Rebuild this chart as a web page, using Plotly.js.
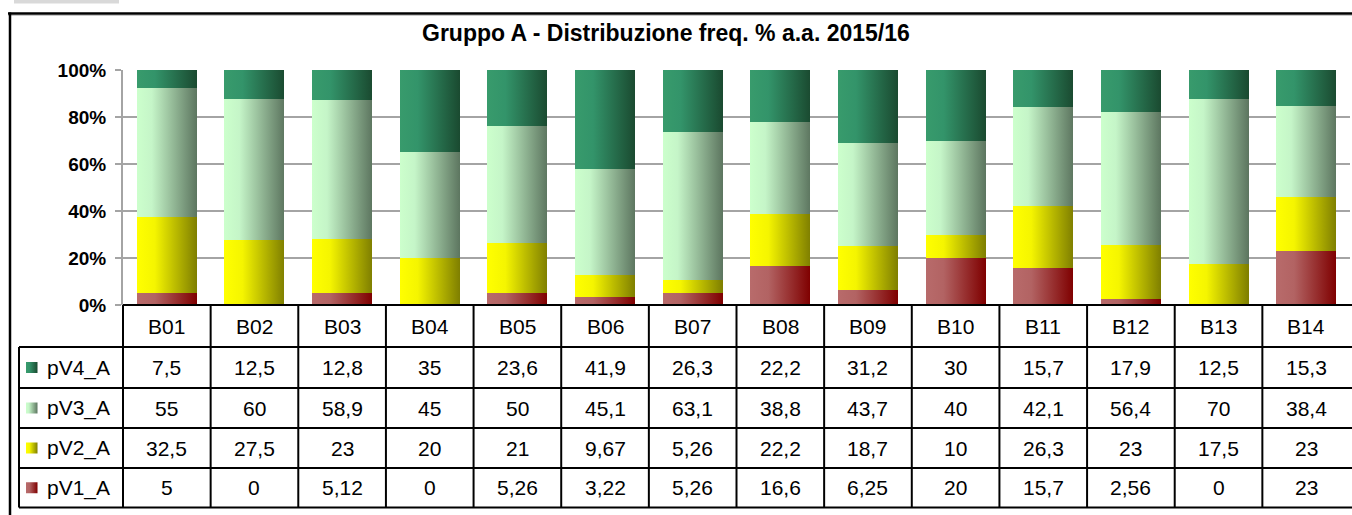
<!DOCTYPE html>
<html>
<head>
<meta charset="utf-8">
<script src="https://cdn.plot.ly/plotly-3.0.1.min.js"></script>
<style>
html,body{margin:0;padding:0;background:#fff;}
#chart{width:1352px;height:515px;}
</style>
</head>
<body>
<div id="chart"></div>
<script>
// ---- data ----
const categories = ['B01','B02','B03','B04','B05','B06','B07','B08','B09','B10','B11','B12','B13','B14'];
const pV1_A = [5, 0, 5.12, 0, 5.26, 3.22, 5.26, 16.6, 6.25, 20, 15.7, 2.56, 0, 23];
const pV2_A = [32.5, 27.5, 23, 20, 21, 9.67, 5.26, 22.2, 18.7, 10, 26.3, 23, 17.5, 23];
const pV3_A = [55, 60, 58.9, 45, 50, 45.1, 63.1, 38.8, 43.7, 40, 42.1, 56.4, 70, 38.4];
const pV4_A = [7.5, 12.5, 12.8, 35, 23.6, 41.9, 26.3, 22.2, 31.2, 30, 15.7, 17.9, 12.5, 15.3];
const seriesNames = ['pV1_A', 'pV2_A', 'pV3_A', 'pV4_A'];
const seriesValues = [pV1_A, pV2_A, pV3_A, pV4_A];
const yTickVals = [0, 20, 40, 60, 80, 100];
const chartTitle = 'Gruppo A - Distribuzione freq. % a.a. 2015/16';

// ---- styles ----
const gradients = [
  [[0, '#b86b6b'], [0.3, '#b26363'], [1, '#7f0000']],
  [[0, '#ffff00'], [0.3, '#f5f500'], [1, '#7f7f00']],
  [[0, '#ccffcc'], [0.25, '#c5f5c8'], [1, '#5d7660']],
  [[0, '#389b6c'], [0.3, '#33946a'], [1, '#1a4a30']]
];
const midColors = ['#a04040', '#c0c000', '#9ab89c', '#2a7050'];

const W = 1352, H = 515;
const L = 123, R = 2, T = 70, B = 210;
const plotW = W - L - R, plotH = H - T - B;
const bottomPx = H - B; // 305
const px = x => (x - L) / plotW;
const py = y => (bottomPx - y) / plotH;
const nCat = categories.length;
const colW = plotW / nCat;

const rowLines = [305, 347, 388, 428, 468, 507.5];
const tableLeft = 19;
const tableRight = L + plotW;

const traces = seriesNames.map((name, i) => ({
  type: 'bar',
  name: name,
  x: categories,
  y: seriesValues[i],
  marker: {color: midColors[i], line: {width: 0}},
  hoverinfo: 'x+y+name'
}));

const shapes = [];
const annotations = [];
const lineStyle = {color: '#000', width: 2};

// top-left gray strip
shapes.push({type: 'rect', xref: 'paper', yref: 'paper', x0: px(14), x1: px(119), y0: py(0), y1: py(3.5), fillcolor: '#d9d9d9', line: {width: 0}});
// outer chart border
shapes.push({type: 'line', xref: 'paper', yref: 'paper', x0: px(8), x1: px(1360), y0: py(13.5), y1: py(13.5), line: {color: '#000', width: 2.5}});
shapes.push({type: 'line', xref: 'paper', yref: 'paper', x0: px(8), x1: px(1360), y0: py(15.5), y1: py(15.5), line: {color: '#c8c8c8', width: 1}});
shapes.push({type: 'line', xref: 'paper', yref: 'paper', x0: px(10), x1: px(10), y0: py(12.5), y1: py(520), line: {color: '#000', width: 2.5}});

// table horizontal lines
rowLines.forEach((y, k) => {
  shapes.push({type: 'line', xref: 'paper', yref: 'paper', x0: px(k === 0 ? L : tableLeft), x1: px(tableRight + 2), y0: py(y), y1: py(y), line: lineStyle});
});
// table vertical lines
for (let c = 0; c < nCat; c++) {
  const x = L + c * colW;
  shapes.push({type: 'line', xref: 'paper', yref: 'paper', x0: px(x), x1: px(x), y0: py(rowLines[0]), y1: py(rowLines[5]), line: lineStyle});
}
shapes.push({type: 'line', xref: 'paper', yref: 'paper', x0: px(tableLeft), x1: px(tableLeft), y0: py(rowLines[1]), y1: py(rowLines[5]), line: lineStyle});

const cellFont = {family: 'Liberation Sans, Arial, sans-serif', size: 21, color: '#000'};
// header row: categories
categories.forEach((c, i) => {
  annotations.push({xref: 'paper', yref: 'paper', x: px(L + (i + 0.5) * colW), y: py((rowLines[0] + rowLines[1]) / 2), text: c, showarrow: false, xanchor: 'center', yanchor: 'middle', font: cellFont});
});
// data rows (top: pV4 ... bottom: pV1)
const swatchIdx = [];
for (let r = 0; r < 4; r++) {
  const s = 3 - r;
  const yc = (rowLines[r + 1] + rowLines[r + 2]) / 2;
  swatchIdx[s] = shapes.length;
  shapes.push({type: 'rect', xref: 'paper', yref: 'paper', x0: px(26), x1: px(37.5), y0: py(yc - 5.5), y1: py(yc + 5.5), fillcolor: midColors[s], line: {width: 0}});
  annotations.push({xref: 'paper', yref: 'paper', x: px(45), y: py(yc), text: seriesNames[s], showarrow: false, xanchor: 'left', yanchor: 'middle', font: cellFont});
  seriesValues[s].forEach((v, i) => {
    annotations.push({xref: 'paper', yref: 'paper', x: px(L + (i + 0.5) * colW), y: py(yc), text: String(v).replace('.', ','), showarrow: false, xanchor: 'center', yanchor: 'middle', font: cellFont});
  });
}
// title
annotations.push({xref: 'paper', yref: 'paper', x: px(666), y: py(33), text: chartTitle, showarrow: false, xanchor: 'center', yanchor: 'middle', font: {family: 'Liberation Sans, Arial, sans-serif', size: 23, color: '#000', weight: 'bold'}});

const layout = {
  width: W, height: H,
  margin: {l: L, r: R, t: T, b: B, pad: 0},
  paper_bgcolor: '#fff', plot_bgcolor: '#fff',
  barmode: 'stack', barnorm: 'percent', bargap: 0.315,
  showlegend: false,
  xaxis: {type: 'category', range: [-0.5, nCat - 0.5], showticklabels: false, showgrid: false, zeroline: false, showline: false, ticks: '', fixedrange: true},
  yaxis: {range: [0, 100], tickvals: yTickVals, ticktext: yTickVals.map(v => v + '%'), showgrid: true, gridcolor: '#a4a4a4', gridwidth: 2, zeroline: false,
          showline: true, linecolor: '#a4a4a4', linewidth: 2, ticks: 'outside', ticklen: 6, tickwidth: 2, tickcolor: '#a4a4a4', ticklabelstandoff: 5,
          tickfont: {family: 'Liberation Sans, Arial, sans-serif', size: 19, color: '#000', weight: 'bold'}, automargin: false, fixedrange: true},
  shapes: shapes,
  annotations: annotations
};

Plotly.newPlot('chart', traces, layout, {staticPlot: true, displayModeBar: false}).then(gd => {
  const svgNS = 'http://www.w3.org/2000/svg';
  const svg = gd.querySelector('svg.main-svg');
  let defs = svg.querySelector('defs');
  if (!defs) { defs = document.createElementNS(svgNS, 'defs'); svg.insertBefore(defs, svg.firstChild); }
  gradients.forEach((stops, i) => {
    const g = document.createElementNS(svgNS, 'linearGradient');
    g.setAttribute('id', 'barGrad' + i);
    g.setAttribute('x1', '0'); g.setAttribute('x2', '1'); g.setAttribute('y1', '0'); g.setAttribute('y2', '0');
    stops.forEach(([o, c]) => {
      const st = document.createElementNS(svgNS, 'stop');
      st.setAttribute('offset', o); st.setAttribute('stop-color', c);
      g.appendChild(st);
    });
    defs.appendChild(g);
  });
  gd.querySelectorAll('.barlayer .trace').forEach((tr, i) => {
    tr.querySelectorAll('path').forEach(p => { p.style.fill = 'url(#barGrad' + i + ')'; });
  });
  swatchIdx.forEach((idx, s) => {
    gd.querySelectorAll('.shapelayer path[data-index="' + idx + '"]').forEach(p => { p.style.fill = 'url(#barGrad' + s + ')'; p.style.fillOpacity = 1; });
  });
});
</script>
</body>
</html>
